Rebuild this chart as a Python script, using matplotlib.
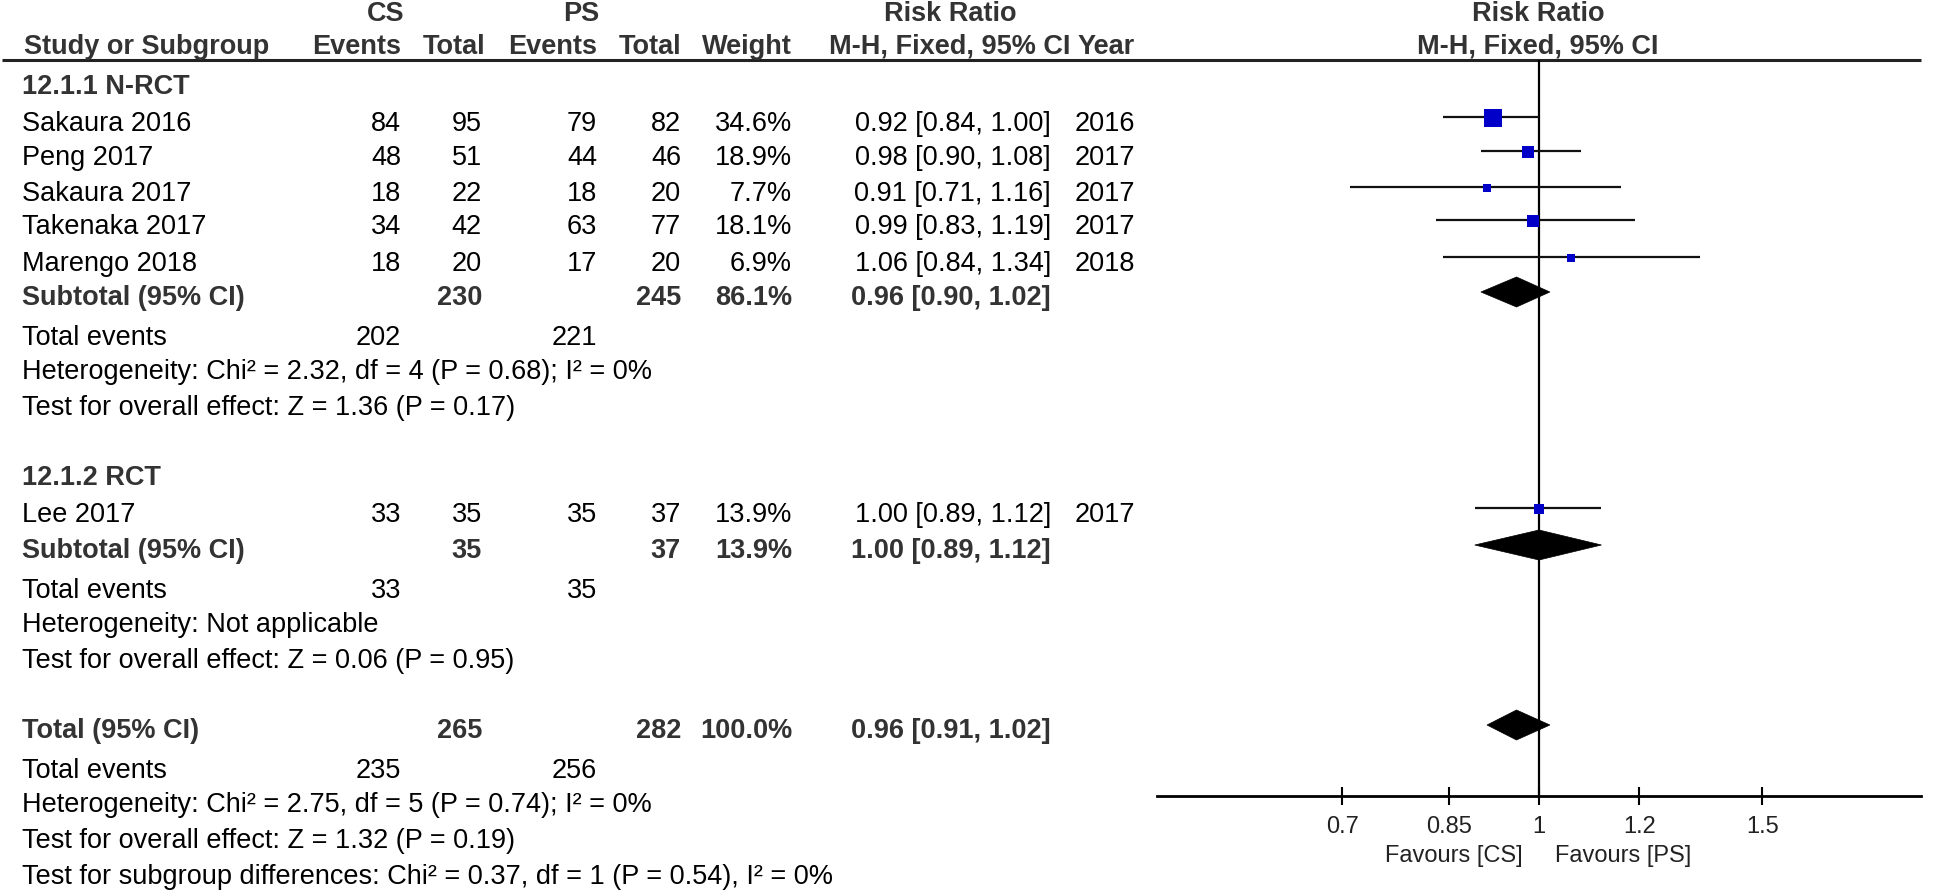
import matplotlib
matplotlib.use("Agg")
import matplotlib.pyplot as plt
from matplotlib.patches import Polygon

plt.rcParams['font.family'] = ['Liberation Sans', 'DejaVu Sans']

# --- data ---
studies = ["Sakaura 2016", "Peng 2017", "Sakaura 2017", "Takenaka 2017", "Marengo 2018", "Lee 2017"]
cs_events = [84, 48, 18, 34, 18, 33]
cs_total = [95, 51, 22, 42, 20, 35]
ps_events = [79, 44, 18, 63, 17, 35]
ps_total = [82, 46, 20, 77, 20, 37]
weight = [34.6, 18.9, 7.7, 18.1, 6.9, 13.9]
rr = [0.92, 0.98, 0.91, 0.99, 1.06, 1.00]
rr_lo = [0.84, 0.90, 0.71, 0.83, 0.84, 0.89]
rr_hi = [1.00, 1.08, 1.16, 1.19, 1.34, 1.12]
year = [2016, 2017, 2017, 2017, 2018, 2017]
study_group = [0, 0, 0, 0, 0, 1]

groups = ["12.1.1 N-RCT", "12.1.2 RCT"]
sub_cs_total = [230, 35]
sub_ps_total = [245, 37]
sub_weight = [86.1, 13.9]
sub_rr = [0.96, 1.00]
sub_lo = [0.90, 0.89]
sub_hi = [1.02, 1.12]
sub_cs_events = [202, 33]
sub_ps_events = [221, 35]
sub_het = ["Heterogeneity: Chi² = 2.32, df = 4 (P = 0.68); I² = 0%",
           "Heterogeneity: Not applicable"]
sub_test = ["Test for overall effect: Z = 1.36 (P = 0.17)",
            "Test for overall effect: Z = 0.06 (P = 0.95)"]

tot_cs_total, tot_ps_total = 265, 282
tot_weight = 100.0
tot_rr, tot_lo, tot_hi = 0.96, 0.91, 1.02
tot_cs_events, tot_ps_events = 235, 256
tot_notes = ["Heterogeneity: Chi² = 2.75, df = 5 (P = 0.74); I² = 0%",
             "Test for overall effect: Z = 1.32 (P = 0.19)",
             "Test for subgroup differences: Chi² = 0.37, df = 1 (P = 0.54), I² = 0%"]

x_ticks = [0.7, 0.85, 1, 1.2, 1.5]
x_ticklabels = ["0.7", "0.85", "1", "1.2", "1.5"]

# --- layout (pixels of a 1946x896 canvas) ---
W, H = 1946, 896
X_NAME = 22
X_CSE, X_CST, X_PSE, X_PST = 401, 482, 597, 681
X_W, X_CI, X_YR = 792, 1051, 1135
X_HDR_RR = 950
X_NULL = 1538
FOREST_L, FOREST_R = 1157, 1921
Y_HDR1, Y_HDR2, Y_RULE = 14, 47, 60
Y_AXIS = 796
MARK_DY = -7

group_rows = [
    dict(head=87, studies=[124, 158, 194, 227, 264], sub=298, te=338, het=372, test=408),
    dict(head=478, studies=[515], sub=551, te=591, het=625, test=661),
]
total_rows = dict(tot=731, te=771, notes=[805, 841, 877])

FS = 19.5
FS_AX = 17
BOLD_C = '#333333'
BLUE = '#0000C8'

fig = plt.figure(figsize=(W / 100, H / 100), dpi=100)
ax = fig.add_axes([0, 0, 1, 1])
ax.set_xlim(0, W)
ax.set_ylim(H, 0)
ax.axis('off')

fa = fig.add_axes([FOREST_L / W, 0, (FOREST_R - FOREST_L) / W, 1])
fa.set_xscale('log')
fa.set_xlim(0.5, 2.0)
fa.set_ylim(H, 0)
for s in ['top', 'left', 'right']:
    fa.spines[s].set_visible(False)
fa.spines['bottom'].set_position(('data', Y_AXIS))
fa.spines['bottom'].set_linewidth(2.0)
fa.set_yticks([])
fa.set_xticks(x_ticks)
fa.set_xticklabels(x_ticklabels)
fa.minorticks_off()
fa.tick_params(axis='x', direction='inout', length=13, width=1.5, pad=8,
               labelsize=FS_AX, labelcolor='#222222')
fa.patch.set_visible(False)


def txt(x, y, s, ha='left', bold=False, size=FS):
    ax.text(x, y, s, ha=ha, va='center', fontsize=size,
            fontweight='bold' if bold else 'normal',
            color=BOLD_C if bold else 'black')


# headers
txt(386, Y_HDR1, "CS", ha='center', bold=True)
txt(581, Y_HDR1, "PS", ha='center', bold=True)
txt(X_HDR_RR, Y_HDR1, "Risk Ratio", ha='center', bold=True)
txt(X_NULL, Y_HDR1, "Risk Ratio", ha='center', bold=True)
txt(24, Y_HDR2, "Study or Subgroup", bold=True)
txt(X_CSE, Y_HDR2, "Events", ha='right', bold=True)
txt(X_CST + 3, Y_HDR2, "Total", ha='right', bold=True)
txt(X_PSE, Y_HDR2, "Events", ha='right', bold=True)
txt(X_PST, Y_HDR2, "Total", ha='right', bold=True)
txt(X_W, Y_HDR2, "Weight", ha='right', bold=True)
txt(X_HDR_RR, Y_HDR2, "M-H, Fixed, 95% CI", ha='center', bold=True)
txt(X_YR, Y_HDR2, "Year", ha='right', bold=True)
txt(X_NULL, Y_HDR2, "M-H, Fixed, 95% CI", ha='center', bold=True)
ax.hlines(Y_RULE, 2, FOREST_R, color='#222222', lw=2.2)

# null line
fa.vlines(1, Y_RULE, Y_AXIS, color='black', lw=1.6)


def diamond(est, lo, hi, y):
    fa.add_patch(Polygon([(lo, y), (est, y - 15), (hi, y), (est, y + 15)],
                         closed=True, facecolor='black', edgecolor='black', lw=0.5))


for g, rows in enumerate(group_rows):
    txt(X_NAME, rows['head'], groups[g], bold=True)
    idx = [i for i in range(len(studies)) if study_group[i] == g]
    for i, y in zip(idx, rows['studies']):
        txt(X_NAME, y, studies[i])
        txt(X_CSE, y, str(cs_events[i]), ha='right')
        txt(X_CST, y, str(cs_total[i]), ha='right')
        txt(X_PSE, y, str(ps_events[i]), ha='right')
        txt(X_PST, y, str(ps_total[i]), ha='right')
        txt(X_W, y, f"{weight[i]:.1f}%", ha='right')
        txt(X_CI, y, f"{rr[i]:.2f} [{rr_lo[i]:.2f}, {rr_hi[i]:.2f}]", ha='right')
        txt(X_YR, y, str(year[i]), ha='right')
        ym = y + MARK_DY
        fa.hlines(ym, rr_lo[i], rr_hi[i], color='#111111', lw=1.6)
        side = (5 + 0.35 * weight[i]) * 0.72
        fa.plot(rr[i], ym + 1, marker='s', markersize=side, color=BLUE,
                markeredgewidth=0, linestyle='none')
    y = rows['sub']
    txt(X_NAME, y, "Subtotal (95% CI)", bold=True)
    txt(X_CST, y, str(sub_cs_total[g]), ha='right', bold=True)
    txt(X_PST, y, str(sub_ps_total[g]), ha='right', bold=True)
    txt(X_W, y, f"{sub_weight[g]:.1f}%", ha='right', bold=True)
    txt(X_CI, y, f"{sub_rr[g]:.2f} [{sub_lo[g]:.2f}, {sub_hi[g]:.2f}]", ha='right', bold=True)
    diamond(sub_rr[g], sub_lo[g], sub_hi[g], y - 6)
    txt(X_NAME, rows['te'], "Total events")
    txt(X_CSE, rows['te'], str(sub_cs_events[g]), ha='right')
    txt(X_PSE, rows['te'], str(sub_ps_events[g]), ha='right')
    txt(X_NAME, rows['het'], sub_het[g])
    txt(X_NAME, rows['test'], sub_test[g])

y = total_rows['tot']
txt(X_NAME, y, "Total (95% CI)", bold=True)
txt(X_CST, y, str(tot_cs_total), ha='right', bold=True)
txt(X_PST, y, str(tot_ps_total), ha='right', bold=True)
txt(X_W, y, f"{tot_weight:.1f}%", ha='right', bold=True)
txt(X_CI, y, f"{tot_rr:.2f} [{tot_lo:.2f}, {tot_hi:.2f}]", ha='right', bold=True)
diamond(tot_rr, tot_lo, tot_hi, y - 6)
txt(X_NAME, total_rows['te'], "Total events")
txt(X_CSE, total_rows['te'], str(tot_cs_events), ha='right')
txt(X_PSE, total_rows['te'], str(tot_ps_events), ha='right')
for s, yy in zip(tot_notes, total_rows['notes']):
    txt(X_NAME, yy, s)

# favours labels
fa.text(0.97, 856, "Favours [CS]", ha='right', va='center', fontsize=FS_AX, color='#222222')
fa.text(1.03, 856, "Favours [PS]", ha='left', va='center', fontsize=FS_AX, color='#222222')

fig.savefig("out.png", dpi=100)
